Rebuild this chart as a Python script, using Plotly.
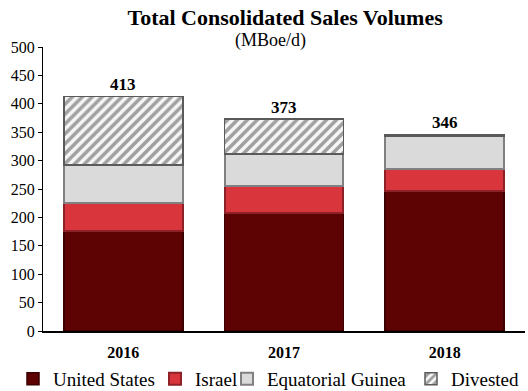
import plotly.graph_objects as go

# Sales volumes by region (MBoe/d)
years = ["2016", "2017", "2018"]
united_states = [176, 208, 247]
israel = [50, 48, 39]
equatorial_guinea = [66, 56, 57]
divested = [121, 61, 3]
totals = [413, 373, 346]

serif = "Liberation Serif, Times New Roman, serif"

fig = go.Figure()

fig.add_trace(go.Bar(
    name="United States", x=years, y=united_states, legend="legend",
    marker=dict(color="#5e0303", line=dict(color="#3d0000", width=1.5)),
))
fig.add_trace(go.Bar(
    name="Israel", x=years, y=israel, legend="legend2",
    marker=dict(color="#d8353d", line=dict(color="#8e2027", width=2)),
))
fig.add_trace(go.Bar(
    name="Equatorial Guinea", x=years, y=equatorial_guinea, legend="legend3",
    marker=dict(color="#dadadb", line=dict(color="#808082", width=2)),
))
fig.add_trace(go.Bar(
    name="Divested", x=years, y=divested, legend="legend4",
    marker=dict(
        color="white",
        line=dict(color="#5a5a5a", width=1.5),
        pattern=dict(shape="/", fgcolor="#4a4a4a", bgcolor="#f6f6f6",
                     size=7, solidity=0.5),
    ),
))

# total labels above each stack (category axis: position by index)
for i, tot in enumerate(totals):
    fig.add_annotation(
        x=i, y=tot, text=f"<b>{tot}</b>", showarrow=False,
        yshift=12, font=dict(family=serif, size=17, color="black"),
    )

# subtitle with the unit
fig.add_annotation(
    text="(MBoe/d)", xref="paper", yref="paper", x=0.471, y=1.0246,
    xanchor="center", yanchor="middle",
    showarrow=False, font=dict(family=serif, size=18, color="black"),
)

W, H = 528, 391
M_L, M_R, M_T, M_B = 43, 3, 47, 60
PLOT_W = W - M_L - M_R
PLOT_H = H - M_T - M_B


def legend_at(text_left_px):
    """One-entry legend whose label starts near the given pixel column."""
    return dict(
        orientation="h", xref="container", yref="paper",
        x=(text_left_px - 40) / W, xanchor="left",
        y=-(379 - (H - M_B)) / PLOT_H, yanchor="middle",
        font=dict(family=serif, size=19, color="black"),
        itemwidth=30, bgcolor="rgba(0,0,0,0)", borderwidth=0,
    )


fig.update_layout(
    barmode="stack",
    bargap=0.26,
    showlegend=True,
    width=W, height=H,
    margin=dict(l=M_L, r=M_R, t=M_T, b=M_B, autoexpand=False),
    paper_bgcolor="white",
    plot_bgcolor="white",
    font=dict(family=serif, color="black"),
    title=dict(
        text="<b>Total Consolidated Sales Volumes</b>",
        x=0.54, xanchor="center", y=1 - 17 / H, yanchor="middle",
        yref="container",
        font=dict(family=serif, size=22, color="black"),
    ),
    legend=legend_at(53),
    legend2=legend_at(195),
    legend3=legend_at(267),
    legend4=legend_at(451),
    xaxis=dict(
        type="category", range=[-0.5, 2.5],
        showline=True, linecolor="black", linewidth=1.5,
        ticks="", ticklabelstandoff=6,
        tickfont=dict(family=serif, size=16, color="black"),
        tickprefix="<b>", ticksuffix="</b>",
    ),
    yaxis=dict(
        range=[0, 500], dtick=50, showgrid=False, zeroline=False,
        showline=True, linecolor="black", linewidth=1,
        ticks="outside", ticklen=4, tickcolor="black",
        tickfont=dict(family=serif, size=16, color="black"),
    ),
)

fig.write_html("out.html")
